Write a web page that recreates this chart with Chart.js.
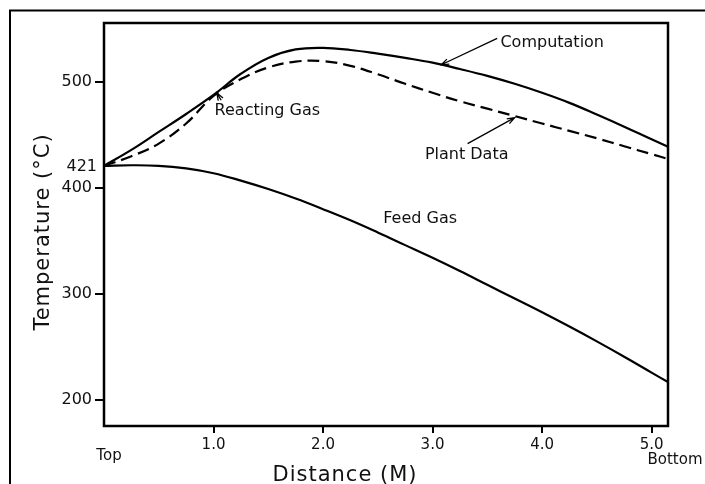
<!DOCTYPE html>
<html lang="en">
<head>
    <meta charset="UTF-8">
    <title>Temperature profile along the bed</title>
    <script src="https://cdn.jsdelivr.net/npm/chart.js"></script>
    <style>
        html, body { margin: 0; padding: 0; background: #fff; }
        #myChart { display: block; }
    </style>
</head>
<body>
    <canvas id="myChart" width="705" height="484"></canvas>
    <script>
        // distance down the bed in metres (0 = Top, 5.15 = Bottom)
        const distance    = [0, 0.25, 0.5, 0.75, 1.0, 1.25, 1.5, 1.75, 2.0, 2.25, 2.5, 2.75, 3.0, 3.25, 3.5, 3.75, 4.0, 4.25, 4.5, 4.75, 5.0, 5.15];
        // reacting gas temperature (C)
        const computation = [421, 436, 453, 470, 488, 508, 523, 531, 532.5, 530.5, 527, 523, 518.5, 512.5, 506, 498.5, 490, 480.5, 469.5, 458, 446, 439];
        const plantData   = [421, 430, 442, 461, 487, 503, 514, 519.5, 520, 515.5, 507.5, 498.5, 490, 482, 475, 468, 461, 454, 447, 439.5, 432, 427.5];
        // feed gas temperature (C)
        const feedGas     = [421, 421.5, 421, 418.5, 414, 407, 399, 390, 380, 369.5, 358, 346, 334, 321.5, 308.5, 295.5, 282.5, 269, 255, 240.5, 225.5, 216.5];

        const xTicks = [1, 2, 3, 4, 5];
        const yTicks = [200, 300, 400, 421, 500];

        // text labels placed in data units: [text, x, y]
        const labels = [
            ['Computation', 3.62, 533.5],
            ['Reacting Gas', 1.01, 469],
            ['Plant Data', 2.93, 427],
            ['Feed Gas', 2.55, 366.5]
        ];
        // leader arrows in data units: [fromX, fromY, toX, toY]
        const arrows = [
            [3.59, 541.5, 3.08, 516.5],
            [3.32, 442, 3.75, 466.5],
            [1.07, 483, 1.03, 490]
        ];

        const ink = '#111';
        const fontFamily = '"DejaVu Sans", Verdana, sans-serif';

        function pts(ys) {
            return distance.map((d, i) => ({ x: d, y: ys[i] }));
        }

        function arrow(ctx, x0, y0, x1, y1) {
            const ang = Math.atan2(y1 - y0, x1 - x0);
            const len = 8;
            ctx.beginPath();
            ctx.moveTo(x0, y0);
            ctx.lineTo(x1, y1);
            ctx.moveTo(x1 - len * Math.cos(ang - 0.35), y1 - len * Math.sin(ang - 0.35));
            ctx.lineTo(x1, y1);
            ctx.lineTo(x1 - len * Math.cos(ang + 0.35), y1 - len * Math.sin(ang + 0.35));
            ctx.stroke();
        }

        const decorations = {
            id: 'decorations',
            afterDraw(chart) {
                const { ctx, chartArea: a, scales } = chart;
                const x = scales.x, y = scales.y;
                ctx.save();

                // plot box
                ctx.strokeStyle = '#000';
                ctx.lineWidth = 2.5;
                ctx.strokeRect(a.left, a.top, a.right - a.left, a.bottom - a.top);

                // page frame (left and top edges)
                ctx.lineWidth = 2;
                ctx.beginPath();
                ctx.moveTo(10, chart.height);
                ctx.lineTo(10, 10.5);
                ctx.lineTo(chart.width, 10.5);
                ctx.stroke();

                ctx.fillStyle = ink;
                ctx.textBaseline = 'alphabetic';

                // curve labels
                ctx.font = '16px ' + fontFamily;
                ctx.textAlign = 'left';
                labels.forEach(([t, lx, ly]) => {
                    ctx.fillText(t, x.getPixelForValue(lx), y.getPixelForValue(ly));
                });

                ctx.lineWidth = 1.3;
                arrows.forEach(([x0, y0, x1, y1]) => {
                    arrow(ctx, x.getPixelForValue(x0), y.getPixelForValue(y0),
                               x.getPixelForValue(x1), y.getPixelForValue(y1));
                });

                // inlet temperature, set close to the axis
                ctx.textAlign = 'right';
                ctx.textBaseline = 'middle';
                ctx.fillText('421', a.left - 7, y.getPixelForValue(421) + 1);

                // ends of the bed
                ctx.textBaseline = 'alphabetic';
                ctx.font = '15px ' + fontFamily;
                ctx.textAlign = 'center';
                ctx.fillText('Top', x.getPixelForValue(0) + 5, a.bottom + 34);
                ctx.fillText('Bottom', x.getPixelForValue(5.15) + 7, a.bottom + 38);

                // axis titles
                ctx.font = '21px ' + fontFamily;
                ctx.letterSpacing = '1px';
                ctx.fillText('Distance (M)', 345, 481);

                ctx.save();
                ctx.translate(48.5, 232);
                ctx.rotate(-Math.PI / 2);
                ctx.fillText('Temperature (\u00B0C)', 0, 0);
                ctx.restore();

                ctx.restore();
            }
        };

        const lineStyle = {
            borderColor: '#000',
            borderWidth: 2.2,
            pointRadius: 0,
            fill: false,
            tension: 0.4
        };

        new Chart(document.getElementById('myChart'), {
            type: 'line',
            data: {
                datasets: [
                    Object.assign({ label: 'Computation', data: pts(computation) }, lineStyle),
                    Object.assign({ label: 'Plant Data', data: pts(plantData), borderDash: [12, 6] }, lineStyle),
                    Object.assign({ label: 'Feed Gas', data: pts(feedGas) }, lineStyle)
                ]
            },
            options: {
                responsive: false,
                animation: false,
                layout: { padding: { top: 23, right: 37, left: 0, bottom: 0 } },
                plugins: {
                    legend: { display: false },
                    tooltip: { enabled: false }
                },
                scales: {
                    x: {
                        type: 'linear',
                        min: 0,
                        max: 5.15,
                        afterBuildTicks: s => { s.ticks = xTicks.map(v => ({ value: v })); },
                        afterFit: s => { s.height = 58; },
                        border: { display: false },
                        grid: {
                            drawOnChartArea: false,
                            drawTicks: true,
                            tickLength: 7,
                            color: '#000',
                            lineWidth: 2
                        },
                        ticks: {
                            autoSkip: false,
                            maxRotation: 0,
                            padding: 3,
                            color: ink,
                            font: { family: fontFamily, size: 15 },
                            callback: v => v.toFixed(1)
                        }
                    },
                    y: {
                        type: 'linear',
                        min: 175,
                        max: 556,
                        afterBuildTicks: s => { s.ticks = yTicks.map(v => ({ value: v })); },
                        afterFit: s => { s.width = 104; },
                        border: { display: false },
                        grid: {
                            drawOnChartArea: false,
                            drawTicks: true,
                            tickLength: 9,
                            color: '#000',
                            tickColor: c => (c.tick && c.tick.value === 421) ? 'rgba(0,0,0,0)' : '#000',
                            lineWidth: 2
                        },
                        ticks: {
                            autoSkip: false,
                            padding: 3,
                            color: ink,
                            font: { family: fontFamily, size: 16 },
                            callback: v => (v === 421 ? '' : String(v))
                        }
                    }
                }
            },
            plugins: [decorations]
        });
    </script>
</body>
</html>
